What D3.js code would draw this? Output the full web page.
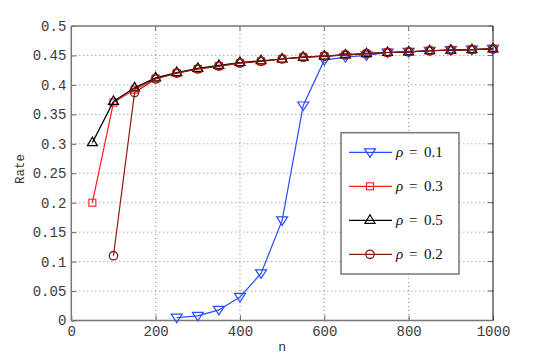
<!DOCTYPE html>
<html><head><meta charset="utf-8">
<script src="https://cdn.jsdelivr.net/npm/d3@7/dist/d3.min.js"></script>
<style>body{margin:0;background:#fff}svg{display:block}.lgt{font-family:"Liberation Serif","DejaVu Serif",serif}</style>
</head><body>
<svg id="c" width="545" height="361"></svg>
<script>
const nA = [250,300,350,400,450,500,550,600,650,700,750,800,850,900,950,1000];
const rho01 = [0.005,0.008,0.018,0.040,0.080,0.170,0.365,0.442,0.447,0.450,0.455,0.456,0.458,0.459,0.460,0.461];
const nB = [50,100,150,200,250,300,350,400,450,500,550,600,650,700,750,800,850,900,950,1000];
const rho03 = [0.200,0.370,0.392,0.411,0.420,0.427,0.432,0.437,0.440,0.444,0.447,0.449,0.451,0.453,0.455,0.456,0.458,0.459,0.460,0.461];
const rho05 = [0.302,0.372,0.395,0.412,0.421,0.428,0.433,0.438,0.441,0.444,0.447,0.449,0.451,0.453,0.455,0.456,0.458,0.459,0.460,0.461];
const nC = [100,150,200,250,300,350,400,450,500,550,600,650,700,750,800,850,900,950,1000];
const rho02 = [0.110,0.387,0.410,0.420,0.427,0.432,0.437,0.440,0.444,0.447,0.449,0.451,0.453,0.455,0.456,0.458,0.459,0.460,0.461];
const xTicks = [0,200,400,600,800,1000];
const yTicks = [0,0.05,0.1,0.15,0.2,0.25,0.3,0.35,0.4,0.45,0.5];
const legendLabels = ["0.1","0.3","0.5","0.2"];

const svg = d3.select("#c");
const L=71.3, R=493, T=26, B=320.5;
const x = d3.scaleLinear().domain([0,1000]).range([L,R]);
const y = d3.scaleLinear().domain([0,0.5]).range([B,T]);
const mono = "'Liberation Mono', 'DejaVu Sans Mono', monospace";

// grid
const g = svg.append("g");
g.selectAll(".gx").data(xTicks.slice(1,-1)).enter().append("line")
 .attr("x1",d=>x(d)).attr("x2",d=>x(d)).attr("y1",T).attr("y2",B)
 .attr("stroke","#888").attr("stroke-width",1).attr("stroke-dasharray","1,3");
g.selectAll(".gy").data(yTicks.slice(1,-1)).enter().append("line")
 .attr("y1",d=>y(d)).attr("y2",d=>y(d)).attr("x1",L).attr("x2",R)
 .attr("stroke","#888").attr("stroke-width",1).attr("stroke-dasharray","1,3");

// axes
const xAxis = d3.axisBottom(x).tickValues(xTicks).tickSize(-5).tickPadding(6).tickFormat(d3.format("d"));
const yAxis = d3.axisLeft(y).tickValues(yTicks).tickSize(-5).tickPadding(5).tickFormat(d=>String(d));
const gx = svg.append("g").attr("transform",`translate(0,${B})`).call(xAxis);
const gy = svg.append("g").attr("transform",`translate(${L},0)`).call(yAxis);
[gx,gy].forEach(a=>{
  a.select(".domain").remove();
  a.selectAll("line").attr("stroke","#666");
  a.selectAll("text").attr("font-family",mono).attr("font-size",14).attr("fill","#3a3a3a");
});
// top/right ticks
svg.append("g").selectAll("line").data(xTicks).enter().append("line")
 .attr("x1",d=>x(d)).attr("x2",d=>x(d)).attr("y1",T).attr("y2",T+5).attr("stroke","#666");
svg.append("g").selectAll("line").data(yTicks).enter().append("line")
 .attr("x1",R-5).attr("x2",R).attr("y1",d=>y(d)).attr("y2",d=>y(d)).attr("stroke","#666");
// frame
svg.append("line").attr("x1",L).attr("x2",R).attr("y1",T).attr("y2",T).attr("stroke","#777").attr("stroke-width",1.5);
svg.append("line").attr("x1",R).attr("x2",R).attr("y1",T).attr("y2",B).attr("stroke","#111").attr("stroke-width",1);
svg.append("line").attr("x1",L).attr("x2",L).attr("y1",T).attr("y2",B).attr("stroke","#777").attr("stroke-width",1.5);
svg.append("line").attr("x1",L).attr("x2",R).attr("y1",B).attr("y2",B).attr("stroke","#777").attr("stroke-width",1.5);

// axis labels
svg.append("text").attr("x",x(500)).attr("y",351).attr("text-anchor","middle")
 .attr("font-family",mono).attr("font-size",13).attr("fill","#333").text("n");
svg.append("text").attr("transform",`translate(24,169) rotate(-90)`).attr("text-anchor","middle")
 .attr("font-family",mono).attr("font-size",12.5).attr("fill","#333").text("Rate");

const series = [
  {xs:nA, ys:rho01, color:"#2a4bff", marker:"tdown"},
  {xs:nB, ys:rho03, color:"#ff1a1a", marker:"square"},
  {xs:nB, ys:rho05, color:"#000000", marker:"tup"},
  {xs:nC, ys:rho02, color:"#8e1a0e", marker:"circle"}
];
function drawMarker(sel, type, color){
  if(type==="circle") sel.append("circle").attr("r",4.2).attr("fill","none").attr("stroke",color).attr("stroke-width",1.3);
  else if(type==="square") sel.append("rect").attr("x",-3.5).attr("y",-3.5).attr("width",7).attr("height",7).attr("fill","none").attr("stroke",color).attr("stroke-width",1.1);
  else if(type==="tup") sel.append("path").attr("d","M0,-5.5L5,3L-5,3Z").attr("fill","none").attr("stroke",color).attr("stroke-width",1.2);
  else sel.append("path").attr("d","M0,5L5.5,-3.5L-5.5,-3.5Z").attr("fill","none").attr("stroke",color).attr("stroke-width",1.2);
}
const line = d3.line().x(d=>x(d[0])).y(d=>y(d[1]));
series.forEach(s=>{
  const pts = s.xs.map((v,i)=>[v,s.ys[i]]);
  svg.append("path").datum(pts).attr("d",line).attr("fill","none").attr("stroke",s.color).attr("stroke-width",1.2);
  pts.forEach(p=>{
    const m = svg.append("g").attr("transform",`translate(${x(p[0])},${y(p[1])})`);
    drawMarker(m, s.marker, s.color);
  });
});

// legend
const lg = svg.append("g");
lg.append("rect").attr("x",341).attr("y",132.7).attr("width",118).attr("height",141.3)
  .attr("fill","#fff").attr("stroke","#777").attr("stroke-width",1.5);
series.forEach((s,i)=>{
  const yy = 152.3 + i*34;
  lg.append("line").attr("x1",349).attr("x2",392).attr("y1",yy).attr("y2",yy).attr("stroke",s.color).attr("stroke-width",1.2);
  const m = lg.append("g").attr("transform",`translate(370,${yy})`);
  drawMarker(m, s.marker, s.color);
  const t = lg.append("text").attr("class","lgt").attr("y",yy+5).attr("font-size",15).attr("fill","#111");
  t.append("tspan").attr("x",396).attr("font-style","italic").text("ρ");
  t.append("tspan").attr("x",409).text("=");
  t.append("tspan").attr("x",424).text(legendLabels[i]);
});
</script>
</body></html>
